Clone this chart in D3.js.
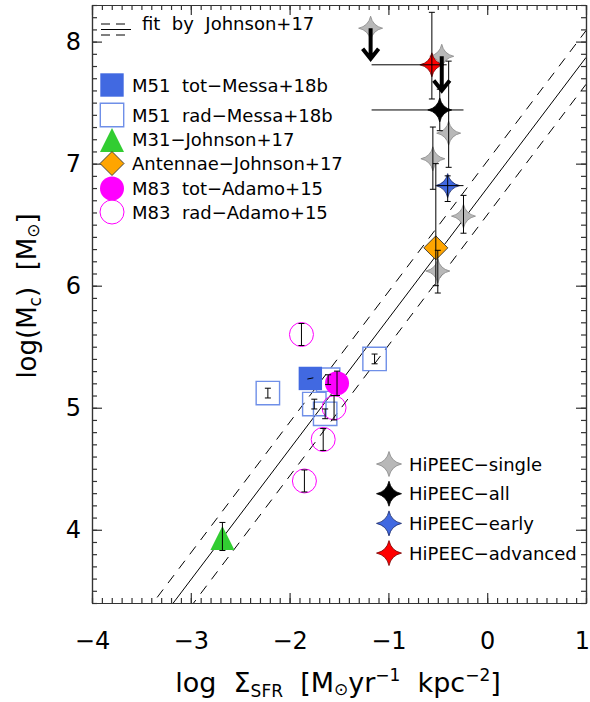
<!DOCTYPE html>
<html>
<head>
<meta charset="utf-8">
<script src="https://cdn.jsdelivr.net/npm/d3@7"></script>
<style>
body { margin: 0; background: #fff; }
text { font-family: "DejaVu Sans", sans-serif; white-space: pre; }
</style>
</head>
<body>
<svg id="chart" width="590" height="702"></svg>
<script>
// fit by Johnson+17 : log Mc = a * log SigmaSFR + b, dashed = +/- scatter
var fitSlope = 1.07, fitIntercept = 6.80, fitScatter = 0.22;
var fitRange = [-4, 1];

// HiPEEC clusters
var hipeecSingle = [
    {x: -1.18, y: 8.11, limit: 7.86},
    {x: -0.46, y: 7.88, limit: 7.60},
    {x: -0.39, y: 7.25, lo: 6.97, hi: 7.84},
    {x: -0.55, y: 7.04, lo: 6.79, hi: 7.30},
    {x: -0.24, y: 6.57, lo: 6.43, hi: 6.74},
    {x: -0.50, y: 6.12, lo: 5.94, hi: 6.29}
];
var hipeecAll = [{x: -0.48, y: 7.44, lo: 7.27, hi: 7.61, xlo: -1.17, xhi: -0.24}];
var hipeecEarly = [{x: -0.40, y: 6.82, lo: 6.69, hi: 6.90, xlo: -0.51, xhi: -0.24}];
var hipeecAdvanced = [{x: -0.56, y: 7.81, lo: 7.53, hi: 8.24, xlo: -1.17, xhi: -0.41}];

// other galaxies
var m51Tot = [{x: -1.79, y: 5.24, lo: 5.235, hi: 5.245}];
var m51Rad = [
    {x: -2.22, y: 5.12, lo: 5.08, hi: 5.16},
    {x: -1.14, y: 5.40, lo: 5.36, hi: 5.44},
    {x: -1.61, y: 5.23, lo: 5.19, hi: 5.27},
    {x: -1.75, y: 5.03, lo: 4.99, hi: 5.07},
    {x: -1.64, y: 4.95, lo: 4.91, hi: 4.99}
];
var m31 = [{x: -2.68, y: 3.94, lo: 3.83, hi: 4.06}];
var antennae = [{x: -0.52, y: 6.31, lo: 6.00, hi: 7.00}];
var m83Tot = [{x: -1.52, y: 5.20, lo: 5.10, hi: 5.30}];
var m83Rad = [
    {x: -1.88, y: 5.60, lo: 5.51, hi: 5.69},
    {x: -1.55, y: 5.00, lo: 4.90, hi: 5.10},
    {x: -1.66, y: 4.74, lo: 4.65, hi: 4.83},
    {x: -1.85, y: 4.40, lo: 4.31, hi: 4.49}
];

var xMajor = [-4, -3, -2, -1, 0, 1];
var yMajor = [4, 5, 6, 7, 8];

var svg = d3.select("#chart");
var x = d3.scaleLinear().domain([-4, 1]).range([92, 586]);
var y = d3.scaleLinear().domain([3.4, 8.3]).range([603, 5]);

var frameColor = "#333";

function minorTicks(scale, step) {
    var d = scale.domain();
    return d3.range(Math.ceil(d[0] / step), Math.floor(d[1] / step) + 1).map(function(i) { return +(i * step).toFixed(2); });
}

function drawAxis(axisFn, scale, tr, major, withLabels, pad) {
    var gMinor = svg.append("g").attr("transform", tr)
        .call(axisFn(scale).tickValues(minorTicks(scale, 0.1)).tickSizeInner(-5).tickSizeOuter(0).tickFormat(""));
    var gMajor = svg.append("g").attr("transform", tr)
        .call(axisFn(scale).tickValues(major).tickSizeInner(-10).tickSizeOuter(0).tickPadding(pad || 3)
            .tickFormat(withLabels ? d3.format("d") : ""));
    [gMinor, gMajor].forEach(function(g) {
        g.selectAll("path, line").attr("stroke", frameColor).attr("stroke-width", 1.2);
        g.selectAll("text").attr("font-family", "DejaVu Sans").attr("font-size", 24).attr("fill", "#000");
    });
    return gMajor;
}

var xAxisG = drawAxis(d3.axisBottom, x, "translate(0,603)", xMajor, true, 29);
// keep the last label inside the page
xAxisG.selectAll(".tick text").filter(function(d) { return d === 1; }).attr("dx", -4);
drawAxis(d3.axisTop, x, "translate(0,5)", xMajor, false);
drawAxis(d3.axisLeft, y, "translate(92,0)", yMajor, true, 11);
drawAxis(d3.axisRight, y, "translate(586,0)", yMajor, false);

// clip for fit lines
svg.append("clipPath").attr("id", "plotclip")
    .append("rect").attr("x", 92).attr("y", 5).attr("width", 494).attr("height", 598);

var plot = svg.append("g").attr("clip-path", "url(#plotclip)");
var line = d3.line().x(function(d) { return x(d[0]); }).y(function(d) { return y(d[1]); });

[[0, null], [fitScatter, "10,8"], [-fitScatter, "10,8"]].forEach(function(f) {
    plot.append("path")
        .datum(fitRange.map(function(v) { return [v, fitSlope * v + fitIntercept + f[0]]; }))
        .attr("d", line)
        .attr("fill", "none")
        .attr("stroke", "#000")
        .attr("stroke-width", 1)
        .attr("stroke-dasharray", f[1]);
});

// marker shapes
function starPath(R) {
    var r = 0.18 * R;
    return "M0," + (-R) + "Q" + r + "," + (-r) + " " + R + ",0Q" + r + "," + r + " 0," + R +
        "Q" + (-r) + "," + r + " " + (-R) + ",0Q" + (-r) + "," + (-r) + " 0," + (-R) + "Z";
}
function diamondPath(h) { return "M0," + (-h) + "L" + h + ",0L0," + h + "L" + (-h) + ",0Z"; }
function trianglePath(w) { return "M0,-11L" + (w / 2) + ",13L" + (-w / 2) + ",13Z"; }
var circle12 = d3.arc()({innerRadius: 0, outerRadius: 12, startAngle: 0, endAngle: 2 * Math.PI});

var styles = {
    single:   {d: starPath(12), fill: "#b8b8b8", stroke: "#888", sw: 0.8},
    all:      {d: starPath(12), fill: "#000", stroke: "#000", sw: 0.8},
    early:    {d: starPath(12), fill: "#4169e1", stroke: "#1a2a6a", sw: 0.8},
    advanced: {d: starPath(12), fill: "#ff0000", stroke: "#700", sw: 0.8},
    m51tot:   {d: "M-11.7,-11.7h23.4v23.4h-23.4Z", fill: "#4169e1", stroke: "none", sw: 0},
    m51rad:   {d: "M-11.7,-11.7h23.4v23.4h-23.4Z", fill: "none", stroke: "#6f8fe8", sw: 1.4},
    m31:      {d: trianglePath(24), fill: "#32cd32", stroke: "none", sw: 0},
    antennae: {d: diamondPath(12), fill: "#ffa500", stroke: "#333", sw: 0.9},
    m83tot:   {d: circle12, fill: "#ff00ff", stroke: "none", sw: 0},
    m83rad:   {d: circle12, fill: "none", stroke: "#ff00ff", sw: 1}
};

var markers = svg.append("g");
var bars = svg.append("g");

function drawSet(data, key) {
    var s = styles[key];
    markers.selectAll(null).data(data).enter().append("path")
        .attr("d", s.d)
        .attr("transform", function(d) { return "translate(" + x(d.x) + "," + y(d.y) + ")"; })
        .attr("fill", s.fill)
        .attr("stroke", s.stroke)
        .attr("stroke-width", s.sw);

    data.forEach(function(d) {
        var cx = x(d.x), cy = y(d.y);
        if (d.lo !== undefined) {
            var cap = (y(d.lo) - y(d.hi)) < 3 ? 0 : 3;
            bars.append("line").attr("x1", cx - (cap ? 0 : 3)).attr("x2", cx + (cap ? 0 : 3))
                .attr("y1", y(d.lo)).attr("y2", y(d.hi));
            if (cap) {
                [d.lo, d.hi].forEach(function(v) {
                    bars.append("line").attr("x1", cx - cap).attr("x2", cx + cap).attr("y1", y(v)).attr("y2", y(v));
                });
            }
        }
        if (d.xlo !== undefined) {
            bars.append("line").attr("x1", x(d.xlo)).attr("x2", x(d.xhi)).attr("y1", cy).attr("y2", cy);
        }
        if (d.limit !== undefined) {
            var ty = y(d.limit);
            bars.append("path")
                .attr("d", "M" + cx + "," + cy + "V" + ty + "M" + (cx - 8) + "," + (ty - 10) + "L" + cx + "," + ty + "L" + (cx + 8) + "," + (ty - 10))
                .attr("fill", "none").attr("stroke", "#000").attr("stroke-width", 4);
        }
    });
}

drawSet(m51Rad, "m51rad");
drawSet(m51Tot, "m51tot");
drawSet(m83Rad, "m83rad");
drawSet(m83Tot, "m83tot");
drawSet(m31, "m31");
drawSet(hipeecSingle, "single");
drawSet(antennae, "antennae");
drawSet(hipeecAll, "all");
drawSet(hipeecEarly, "early");
drawSet(hipeecAdvanced, "advanced");

bars.selectAll("line").attr("stroke", "#000").attr("stroke-width", 1);

// legend, top left
var lg = svg.append("g");
[24, 35].forEach(function(ly) {
    lg.append("line").attr("x1", 101).attr("x2", 131).attr("y1", ly).attr("y2", ly)
        .attr("stroke", "#000").attr("stroke-dasharray", "9,6");
});
lg.append("line").attr("x1", 101).attr("x2", 131).attr("y1", 29.5).attr("y2", 29.5).attr("stroke", "#000");
lg.append("text").attr("x", 142).attr("y", 30).attr("font-size", 18).text("fit  by  Johnson+17");

var legendTop = [
    {key: "m51tot", label: "M51  tot\u2212Messa+18b"},
    {key: "m51rad", label: "M51  rad\u2212Messa+18b"},
    {key: "m31", label: "M31\u2212Johnson+17"},
    {key: "antennae", label: "Antennae\u2212Johnson+17"},
    {key: "m83tot", label: "M83  tot\u2212Adamo+15"},
    {key: "m83rad", label: "M83  rad\u2212Adamo+15"}
];
var legendTopY = [85, 115, 139, 163.5, 188.5, 212];
legendTop.forEach(function(e, i) {
    var s = styles[e.key];
    lg.append("path").attr("d", s.d).attr("transform", "translate(112," + legendTopY[i] + ")")
        .attr("fill", s.fill).attr("stroke", s.stroke).attr("stroke-width", s.sw);
    lg.append("text").attr("x", 132).attr("y", legendTopY[i] + 6.5).attr("font-size", 18).text(e.label);
});

var legendBottom = [
    {key: "single", label: "HiPEEC\u2212single"},
    {key: "all", label: "HiPEEC\u2212all"},
    {key: "early", label: "HiPEEC\u2212early"},
    {key: "advanced", label: "HiPEEC\u2212advanced"}
];
legendBottom.forEach(function(e, i) {
    var s = styles[e.key];
    var ly = 464 + i * 29.7;
    lg.append("path").attr("d", starPath(12.5)).attr("transform", "translate(389," + ly + ")")
        .attr("fill", s.fill).attr("stroke", s.stroke).attr("stroke-width", s.sw);
    lg.append("text").attr("x", 409).attr("y", ly + 6.5).attr("font-size", 18).text(e.label);
});

// axis titles
var xt = svg.append("text").attr("x", 338).attr("y", 692).attr("text-anchor", "middle").attr("font-size", 27);
xt.append("tspan").text("log  \u03A3");
xt.append("tspan").attr("font-size", 17).attr("dy", 5).text("SFR");
xt.append("tspan").attr("dy", -5).text("  [M");
xt.append("tspan").attr("font-size", 17).attr("dy", 3).text("\u2299");
xt.append("tspan").attr("dy", -3).text("yr");
xt.append("tspan").attr("font-size", 17).attr("dy", -11).text("\u22121");
xt.append("tspan").attr("dy", 11).text("  kpc");
xt.append("tspan").attr("font-size", 17).attr("dy", -11).text("\u22122");
xt.append("tspan").attr("dy", 11).text("]");

var yt = svg.append("text").attr("transform", "translate(36,296) rotate(-90)").attr("text-anchor", "middle").attr("font-size", 26);
yt.append("tspan").text("log(M");
yt.append("tspan").attr("font-size", 17).attr("dy", 5).text("c");
yt.append("tspan").attr("dy", -5).text(")  [M");
yt.append("tspan").attr("font-size", 17).attr("dy", 3).text("\u2299");
yt.append("tspan").attr("dy", -3).text("]");
</script>
</body>
</html>
